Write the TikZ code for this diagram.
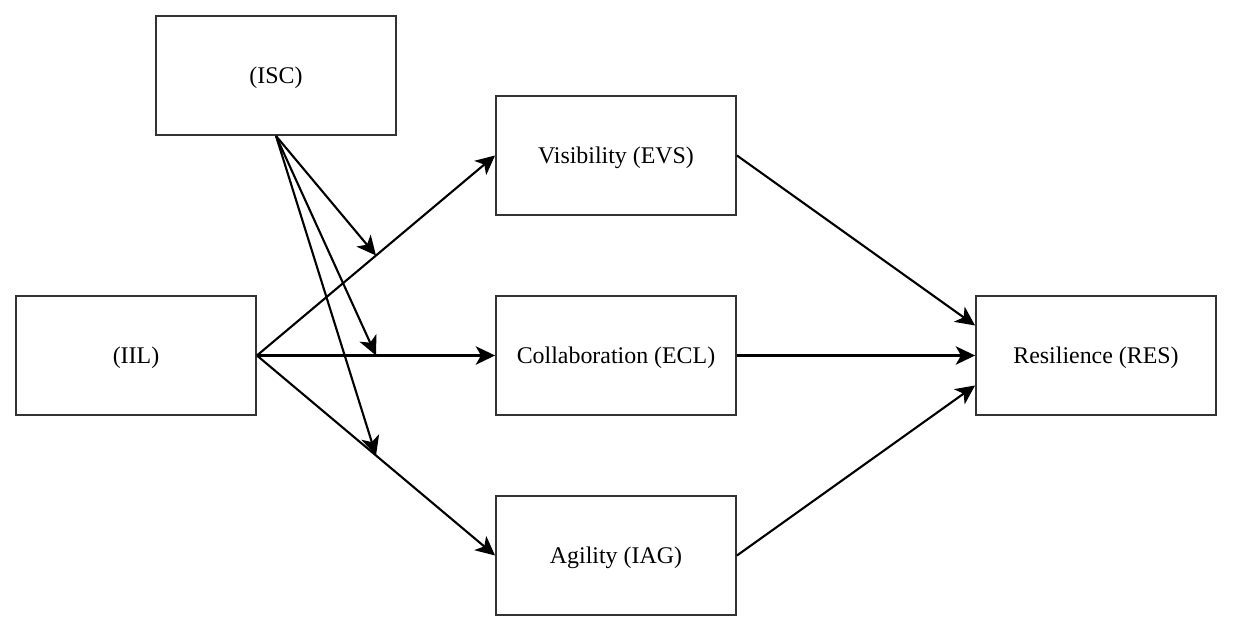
\documentclass[tikz,border=0pt]{standalone}
\usepackage{fontspec}
\setmainfont{Liberation Serif}
\usetikzlibrary{arrows.meta,calc}

\begin{document}
\begin{tikzpicture}[x=0.02cm,y=-0.02cm,
        varbox/.style={draw=black!80, line width=1.1pt, fill=white, inner sep=0pt,
            minimum width=4.8cm, minimum height=2.38cm, text depth=0pt,
            font=\fontsize{13.6pt}{16pt}\selectfont},
        path/.style={line width=1.2pt, -{Stealth[length=11pt,width=10.5pt,inset=3pt]}}]
        \useasboundingbox (0,0) rectangle (1234,634);

        % Draw the constructs
        \node[varbox] (isc) at (276,75.5)  {(ISC)};
        \node[varbox] (iil) at (136,355.5) {(IIL)};
        \node[varbox] (evs) at (616,155.5) {Visibility (EVS)};
        \node[varbox] (ecl) at (616,355.5) {Collaboration (ECL)};
        \node[varbox] (iag) at (616,555.5) {Agility (IAG)};
        \node[varbox] (res) at (1096,355.5) {Resilience (RES)};

        % Draw direct paths
        \draw[path] (iil.east) -- (evs.west);
        \draw[path] (iil.east) -- (ecl.west);
        \draw[path] (iil.east) -- (iag.west);
        \draw[path] (evs.east) -- ([yshift=0.6cm]res.west);
        \draw[path] (ecl.east) -- (res.west);
        \draw[path] (iag.east) -- ([yshift=-0.6cm]res.west);

        % Draw moderating paths
        \coordinate (m1) at ($(iil.east)!0.5!(evs.west)$);
        \coordinate (m2) at ($(iil.east)!0.5!(ecl.west)$);
        \coordinate (m3) at ($(iil.east)!0.5!(iag.west)$);
        \draw[path] (isc.south) -- (m1);
        \draw[path] (isc.south) -- (m2);
        \draw[path] (isc.south) -- (m3);
    \end{tikzpicture}
\end{document}
